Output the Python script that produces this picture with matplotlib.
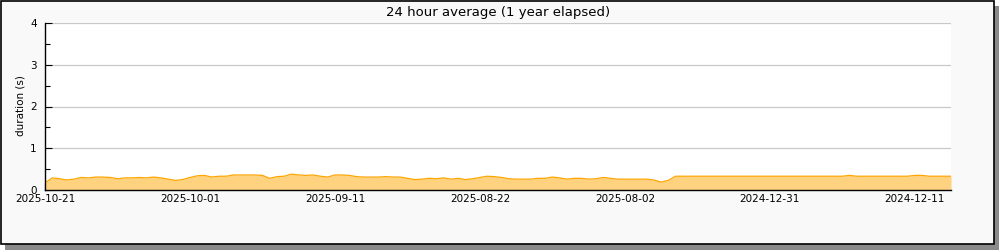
import matplotlib
matplotlib.use("Agg")
import matplotlib.pyplot as plt
from matplotlib.patches import Rectangle
from matplotlib.ticker import MultipleLocator, FixedLocator

# ---- data ----
title = "24 hour average (1 year elapsed)"
y_label = "duration (s)"
tick_labels = ["2025-10-21", "2025-10-01", "2025-09-11", "2025-08-22",
               "2025-08-02", "2024-12-31", "2024-12-11"]
durations = [
    0.17, 0.29, 0.27, 0.24, 0.26, 0.30, 0.29, 0.31, 0.31, 0.30,
    0.27, 0.29, 0.29, 0.30, 0.29, 0.31, 0.29, 0.26, 0.23, 0.25,
    0.30, 0.34, 0.35, 0.31, 0.33, 0.33, 0.36, 0.36, 0.36, 0.36,
    0.35, 0.28, 0.32, 0.33, 0.38, 0.36, 0.35, 0.36, 0.33, 0.31,
    0.36, 0.36, 0.35, 0.32, 0.31, 0.31, 0.31, 0.32, 0.31, 0.31,
    0.28, 0.25, 0.26, 0.28, 0.27, 0.29, 0.26, 0.28, 0.25, 0.27,
    0.30, 0.33, 0.32, 0.30, 0.27, 0.26, 0.26, 0.26, 0.28, 0.28,
    0.31, 0.29, 0.26, 0.28, 0.28, 0.26, 0.27, 0.30, 0.28, 0.26,
    0.26, 0.26, 0.26, 0.26, 0.24, 0.19, 0.23, 0.33, 0.33, 0.33,
    0.33, 0.33, 0.33, 0.33, 0.33, 0.33, 0.33, 0.33, 0.33, 0.33,
    0.33, 0.33, 0.33, 0.33, 0.33, 0.33, 0.33, 0.33, 0.33, 0.33,
    0.33, 0.35, 0.33, 0.33, 0.33, 0.33, 0.33, 0.33, 0.33, 0.33,
    0.35, 0.35, 0.33, 0.33, 0.33, 0.33,
]
samples_per_label = 20

W, H = 1000, 250
fig = plt.figure(figsize=(W / 100, H / 100), dpi=100, facecolor="white")

# frame with shadow
shadow = Rectangle((5 / W, 0 / H), 994 / W, 244 / H, transform=fig.transFigure,
                   facecolor="#8a8a8a", edgecolor="none", zorder=0)
frame = Rectangle((0.5 / W, 6 / H), 993.5 / W, 243.5 / H, transform=fig.transFigure,
                  facecolor="#f9f9f9", edgecolor="black", linewidth=1.2, zorder=1)
fig.patches.extend([shadow, frame])

ax = fig.add_axes([45 / W, 1 - 190 / H, (951 - 45) / W, (190 - 23) / H])
ax.set_facecolor("white")
ax.set_zorder(2)

x = list(range(len(durations)))
ax.fill_between(x, durations, 0, color="#FFD27F", linewidth=0, zorder=2)
ax.plot(x, durations, color="#FFA500", linewidth=0.9, zorder=3)

ax.set_xlim(0, len(durations) - 1)
ax.set_ylim(0, 4)

major = [i * samples_per_label for i in range(len(tick_labels))]
ax.xaxis.set_major_locator(FixedLocator(major))
ax.set_xticklabels(tick_labels)
ax.xaxis.set_minor_locator(FixedLocator([m + samples_per_label / 2 for m in major[:-1]]))
ax.yaxis.set_major_locator(MultipleLocator(1))
ax.yaxis.set_minor_locator(MultipleLocator(0.5))

ax.tick_params(axis="both", which="major", direction="in", length=5, width=0.8,
               labelsize=7.5, colors="black", pad=3)
ax.tick_params(axis="both", which="minor", direction="in", length=3.5, width=0.8)
ax.tick_params(axis="y", which="major", pad=6)

ax.grid(axis="y", which="major", color="#c8c8c8", linewidth=0.9, zorder=1)
ax.set_axisbelow(True)

for s in ["top", "right"]:
    ax.spines[s].set_visible(False)
for s in ["left", "bottom"]:
    ax.spines[s].set_linewidth(1.0)
    ax.spines[s].set_zorder(5)

ax.set_ylabel(y_label, fontsize=7.5)
ax.yaxis.set_label_coords(-(45 - 20.5) / (951 - 45), 0.5, transform=None)
ax.yaxis.label.set_position((20.5 / W, 1 - 106 / H))
ax.yaxis.label.set_transform(fig.transFigure)
ax.yaxis.label.set_verticalalignment("center")
fig.text(498 / W, 1 - 12.5 / H, title, ha="center", va="center", fontsize=9.5)

fig.savefig("out.png", dpi=100, facecolor="white")
